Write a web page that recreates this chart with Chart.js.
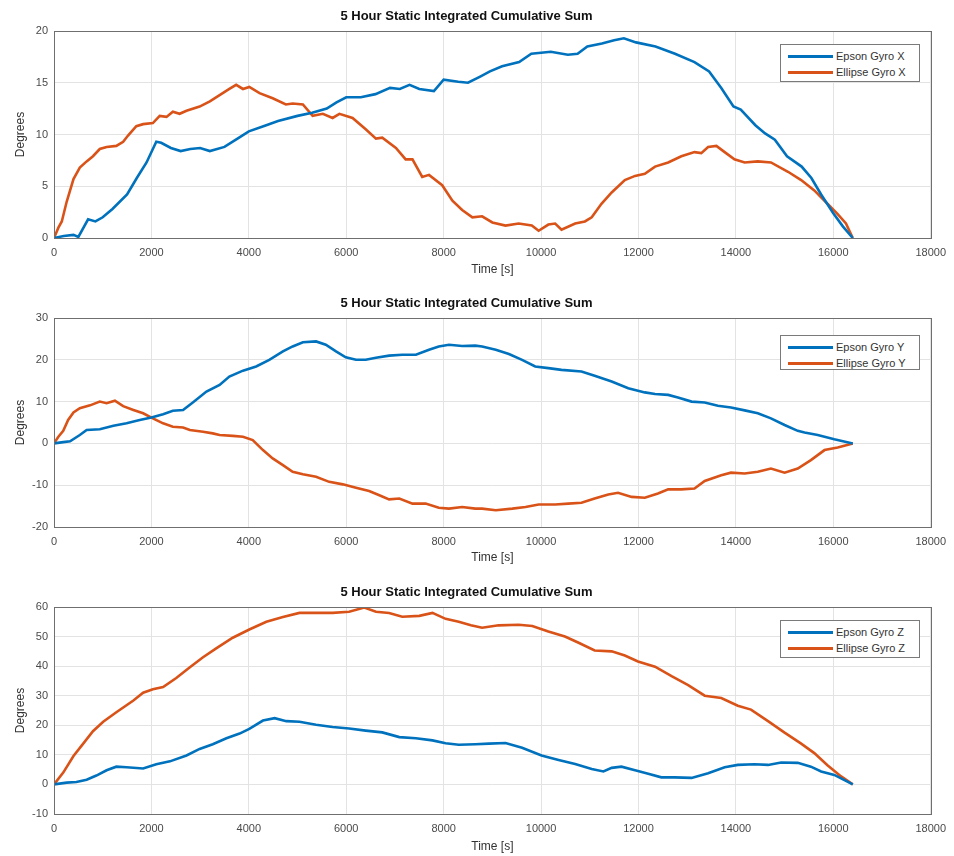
<!DOCTYPE html>
<html>
<head>
<meta charset="utf-8">
<script src="https://cdn.jsdelivr.net/npm/chart.js@4.4.1/dist/chart.umd.min.js"></script>
<style>
  body { margin: 0; background: #fff; width: 954px; height: 856px; position: relative; overflow: hidden; }
  .panel { position: absolute; left: 0; width: 954px; }
  .legend { position: absolute; background: #fff; border: 1px solid #7a7a7a; font: 11px "Liberation Sans", Arial, sans-serif; color: #333; box-sizing: border-box; }
  .legend .row { position: absolute; left: 0; height: 14px; line-height: 14px; white-space: nowrap; }
  .legend .swatch { position: absolute; left: 7px; top: 6px; width: 45px; height: 3px; }
  .legend .txt { position: absolute; left: 55px; top: 0; }
</style>
</head>
<body>
<div class="panel" style="top:0;height:286px"><canvas id="chartX" width="954" height="286"></canvas></div>
<div class="panel" style="top:287px;height:288px"><canvas id="chartY" width="954" height="288"></canvas></div>
<div class="panel" style="top:576px;height:280px"><canvas id="chartZ" width="954" height="280"></canvas></div>
<script>
const titleText = "5 Hour Static Integrated Cumulative Sum";
const blue = "#0072BD";
const orange = "#D95319";

// X axis gyro
const epsonXTime = [0, 200, 400, 500, 700, 850, 1000, 1200, 1500, 1700, 1900, 2100, 2200, 2400, 2600, 2800, 3000, 3200, 3500, 3800, 4000, 4300, 4600, 5000, 5300, 5600, 5800, 6000, 6300, 6600, 6900, 7100, 7300, 7500, 7800, 8000, 8300, 8500, 8750, 8950, 9200, 9550, 9800, 10000, 10200, 10550, 10750, 10950, 11250, 11500, 11700, 11950, 12350, 12750, 13150, 13450, 13700, 13950, 14100, 14400, 14600, 14800, 15050, 15350, 15550, 15750, 16000, 16200, 16400];
const epsonXDeg  = [0, 0.2, 0.3, 0.1, 1.8, 1.6, 2.0, 2.8, 4.2, 5.8, 7.3, 9.3, 9.2, 8.7, 8.4, 8.6, 8.7, 8.4, 8.8, 9.7, 10.3, 10.8, 11.3, 11.8, 12.1, 12.5, 13.1, 13.6, 13.6, 13.9, 14.5, 14.4, 14.8, 14.4, 14.2, 15.3, 15.1, 15.0, 15.6, 16.1, 16.6, 17.0, 17.8, 17.9, 18.0, 17.7, 17.8, 18.5, 18.8, 19.1, 19.3, 18.9, 18.5, 17.8, 17.0, 16.1, 14.5, 12.7, 12.4, 10.9, 10.1, 9.5, 7.9, 6.9, 5.8, 4.2, 2.4, 1.1, 0];
const ellipseXTime = [0, 90, 160, 260, 400, 530, 670, 800, 940, 1080, 1280, 1420, 1520, 1690, 1830, 2030, 2170, 2310, 2440, 2580, 2720, 2990, 3200, 3400, 3600, 3740, 3880, 4010, 4220, 4490, 4760, 4900, 5110, 5310, 5520, 5720, 5860, 6130, 6400, 6610, 6740, 7020, 7220, 7360, 7560, 7700, 7970, 8180, 8380, 8590, 8790, 9000, 9270, 9540, 9810, 9950, 10150, 10290, 10420, 10700, 10900, 11040, 11240, 11450, 11720, 11930, 12130, 12340, 12610, 12880, 13150, 13290, 13430, 13600, 13770, 13970, 14180, 14450, 14720, 15070, 15340, 15610, 15820, 16090, 16260, 16400];
const ellipseXDeg  = [0, 1.0, 1.6, 3.5, 5.7, 6.8, 7.4, 7.9, 8.6, 8.8, 8.9, 9.3, 9.9, 10.8, 11.0, 11.1, 11.8, 11.7, 12.2, 12.0, 12.3, 12.7, 13.2, 13.8, 14.4, 14.8, 14.4, 14.6, 14.0, 13.5, 12.9, 13.0, 12.9, 11.8, 12.0, 11.6, 12.0, 11.6, 10.5, 9.6, 9.7, 8.7, 7.6, 7.6, 5.9, 6.1, 5.1, 3.6, 2.7, 2.0, 2.1, 1.5, 1.2, 1.4, 1.2, 0.7, 1.3, 1.4, 0.8, 1.4, 1.6, 2.0, 3.3, 4.4, 5.6, 6.0, 6.2, 6.9, 7.3, 7.9, 8.3, 8.2, 8.8, 8.9, 8.3, 7.6, 7.3, 7.4, 7.3, 6.4, 5.6, 4.6, 3.6, 2.3, 1.4, 0];

// Y axis gyro
const epsonYTime = [0, 190, 330, 530, 670, 940, 1220, 1490, 1760, 2000, 2240, 2440, 2650, 2850, 3130, 3400, 3600, 3880, 4150, 4420, 4700, 4900, 5110, 5380, 5580, 5790, 5990, 6200, 6400, 6610, 6880, 7150, 7430, 7700, 7900, 8110, 8380, 8650, 8790, 9070, 9340, 9610, 9880, 10150, 10420, 10830, 11100, 11450, 11790, 12130, 12340, 12610, 12810, 13090, 13360, 13630, 13900, 14180, 14450, 14720, 15000, 15270, 15410, 15680, 16020, 16400];
const epsonYDeg  = [0, 0.3, 0.5, 2.0, 3.2, 3.4, 4.2, 4.8, 5.6, 6.2, 7.0, 7.8, 8.0, 9.8, 12.4, 14.0, 16.0, 17.4, 18.4, 20.0, 22.0, 23.2, 24.2, 24.4, 23.6, 22.0, 20.6, 20.0, 20.0, 20.5, 21.0, 21.2, 21.2, 22.4, 23.2, 23.6, 23.3, 23.4, 23.2, 22.4, 21.4, 20.0, 18.4, 18.0, 17.6, 17.2, 16.2, 14.8, 13.2, 12.2, 11.8, 11.6, 11.0, 10.0, 9.8, 9.0, 8.6, 7.9, 7.2, 6.0, 4.4, 3.0, 2.6, 2.0, 1.0, 0];
const ellipseYTime = [0, 90, 190, 290, 400, 530, 740, 940, 1080, 1250, 1420, 1630, 1830, 2030, 2240, 2440, 2650, 2790, 3060, 3260, 3400, 3670, 3880, 4080, 4290, 4490, 4700, 4900, 5110, 5380, 5650, 5930, 6200, 6470, 6680, 6880, 7090, 7360, 7630, 7900, 8110, 8380, 8650, 8790, 9070, 9410, 9680, 9950, 10290, 10560, 10830, 11100, 11380, 11580, 11860, 12130, 12400, 12610, 12880, 13150, 13360, 13700, 13900, 14180, 14450, 14720, 15000, 15270, 15540, 15820, 16090, 16400];
const ellipseYDeg  = [0, 1.6, 3.0, 5.6, 7.4, 8.4, 9.1, 10.0, 9.6, 10.2, 8.9, 8.0, 7.2, 6.0, 4.8, 4.0, 3.8, 3.2, 2.8, 2.4, 2.0, 1.8, 1.6, 0.8, -1.6, -3.6, -5.2, -6.8, -7.4, -8.0, -9.2, -9.8, -10.6, -11.4, -12.4, -13.4, -13.2, -14.4, -14.4, -15.4, -15.6, -15.2, -15.6, -15.6, -16.0, -15.6, -15.2, -14.6, -14.6, -14.4, -14.2, -13.2, -12.2, -11.8, -12.8, -13.0, -12.0, -11.0, -11.0, -10.8, -9.0, -7.6, -7.0, -7.2, -6.8, -6.0, -7.0, -6.0, -4.0, -1.6, -1.0, 0];

// Z axis gyro
const epsonZTime = [0, 260, 460, 670, 870, 1080, 1280, 1490, 1830, 2100, 2380, 2720, 2990, 3260, 3540, 3810, 4010, 4290, 4530, 4770, 5040, 5380, 5720, 6060, 6400, 6740, 7090, 7430, 7770, 8040, 8310, 8650, 8930, 9270, 9610, 10010, 10360, 10700, 11040, 11280, 11450, 11650, 11930, 12200, 12470, 12740, 13090, 13430, 13770, 14040, 14380, 14660, 14930, 15270, 15540, 15750, 16020, 16400];
const epsonZDeg  = [0, 0.6, 0.8, 1.6, 3.0, 4.8, 6.0, 5.8, 5.4, 6.8, 7.8, 9.8, 12.0, 13.6, 15.6, 17.2, 18.8, 21.6, 22.4, 21.4, 21.2, 20.2, 19.4, 18.9, 18.2, 17.6, 16.0, 15.6, 14.9, 13.9, 13.4, 13.6, 13.8, 14.0, 12.4, 9.8, 8.3, 6.9, 5.2, 4.4, 5.6, 6.0, 4.8, 3.6, 2.4, 2.4, 2.2, 3.8, 5.8, 6.6, 6.8, 6.6, 7.4, 7.3, 6.0, 4.4, 3.2, 0];
const ellipseZTime = [0, 190, 400, 600, 800, 1010, 1280, 1630, 1830, 2030, 2240, 2510, 2790, 3060, 3330, 3670, 4010, 4360, 4700, 5040, 5380, 5720, 6060, 6370, 6610, 6880, 7150, 7500, 7770, 8040, 8310, 8560, 8790, 9130, 9540, 9820, 10150, 10490, 10760, 11100, 11450, 11720, 11990, 12340, 12680, 13020, 13360, 13700, 14040, 14310, 14660, 15000, 15340, 15610, 15880, 16160, 16400];
const ellipseZDeg  = [0, 4.0, 9.6, 13.8, 18.0, 21.2, 24.4, 28.4, 31.0, 32.2, 32.9, 36.0, 39.6, 43.0, 46.0, 49.6, 52.4, 55.0, 56.6, 58.0, 58.0, 58.0, 58.4, 59.8, 58.4, 58.0, 56.7, 57.0, 58.0, 56.0, 55.0, 53.8, 53.0, 53.8, 54.0, 53.6, 51.7, 50.0, 48.0, 45.3, 45.0, 43.6, 41.6, 39.8, 36.6, 33.6, 30.0, 29.2, 26.6, 25.3, 21.4, 17.5, 13.8, 10.6, 6.5, 2.7, 0];

const xTicks = [0, 2000, 4000, 6000, 8000, 10000, 12000, 14000, 16000, 18000];

function points(times, values) {
    return times.map((t, i) => ({ x: t, y: values[i] }));
}

// draws the full box around the plot area like MATLAB does
const framePlugin = {
    id: "frame",
    afterDraw(chart) {
        const a = chart.chartArea;
        const ctx = chart.ctx;
        ctx.save();
        ctx.strokeStyle = "#6f6f6f";
        ctx.lineWidth = 1;
        ctx.strokeRect(Math.round(a.left) + 0.5, Math.round(a.top) + 0.5, Math.round(a.right - a.left), Math.round(a.bottom - a.top));
        ctx.restore();
    }
};

function makeChart(canvasId, series, yMin, yMax, yStep, xAxisHeight, xTitlePad) {
    const ctx = document.getElementById(canvasId).getContext("2d");
    return new Chart(ctx, {
        type: "line",
        data: {
            datasets: series.map(s => ({
                label: s.label,
                data: points(s.time, s.deg),
                borderColor: s.color,
                backgroundColor: s.color,
                borderWidth: 2.6,
                pointRadius: 0,
                tension: 0,
                fill: false
            }))
        },
        options: {
            responsive: false,
            animation: false,
            devicePixelRatio: 1,
            layout: { padding: { left: 0, right: 21, top: 0, bottom: 0 } },
            plugins: {
                legend: { display: false },
                tooltip: { enabled: false },
                title: {
                    display: true,
                    text: titleText,
                    color: "#111",
                    font: { family: "Liberation Sans", size: 13, weight: "bold", lineHeight: 1.2 },
                    padding: { top: 9, bottom: 6.4 }
                }
            },
            scales: {
                x: {
                    type: "linear",
                    min: 0,
                    max: 18000,
                    afterBuildTicks: axis => { axis.ticks = xTicks.map(v => ({ value: v })); },
                    afterFit: axis => { axis.height = xAxisHeight; },
                    grid: { color: "#e3e3e3", drawTicks: false },
                    border: { display: false },
                    ticks: {
                        color: "#4a4a4a", padding: 8, maxRotation: 0,
                        font: { family: "Liberation Sans", size: 11 },
                        callback: v => String(v)
                    },
                    title: {
                        display: true,
                        text: "Time [s]",
                        color: "#333",
                        font: { family: "Liberation Sans", size: 12, lineHeight: 1.2 },
                        padding: { top: 0, bottom: xTitlePad }
                    }
                },
                y: {
                    min: yMin,
                    max: yMax,
                    afterFit: axis => { axis.width = 54; },
                    grid: { color: "#e3e3e3", drawTicks: false },
                    border: { display: false },
                    ticks: {
                        stepSize: yStep, color: "#4a4a4a", padding: 6,
                        font: { family: "Liberation Sans", size: 11 },
                        callback: v => String(v)
                    },
                    title: {
                        display: true,
                        text: "Degrees",
                        color: "#333",
                        font: { family: "Liberation Sans", size: 12, lineHeight: 1.2 },
                        padding: { top: 13, bottom: 0 }
                    }
                }
            }
        },
        plugins: [framePlugin]
    });
}

// legend boxes sit inside the plot area, built from the dataset labels
function addLegend(chart, top, height, rowGap) {
    const box = document.createElement("div");
    box.className = "legend";
    box.style.left = "780px";
    box.style.top = top + "px";
    box.style.width = "140px";
    box.style.height = height + "px";
    chart.data.datasets.forEach((ds, i) => {
        const row = document.createElement("div");
        row.className = "row";
        row.style.top = (4 + i * rowGap) + "px";
        row.innerHTML = `<span class="swatch" style="background:${ds.borderColor}"></span><span class="txt">${ds.label}</span>`;
        box.appendChild(row);
    });
    document.body.appendChild(box);
}

const chartX = makeChart("chartX", [
    { label: "Epson Gyro X", time: epsonXTime, deg: epsonXDeg, color: blue },
    { label: "Ellipse Gyro X", time: ellipseXTime, deg: ellipseXDeg, color: orange }
], 0, 20, 5, 48, 8.8);

const chartY = makeChart("chartY", [
    { label: "Epson Gyro Y", time: epsonYTime, deg: epsonYDeg, color: blue },
    { label: "Ellipse Gyro Y", time: ellipseYTime, deg: ellipseYDeg, color: orange }
], -20, 30, 10, 48, 9.8);

const chartZ = makeChart("chartZ", [
    { label: "Epson Gyro Z", time: epsonZTime, deg: epsonZDeg, color: blue },
    { label: "Ellipse Gyro Z", time: ellipseZTime, deg: ellipseZDeg, color: orange }
], -10, 60, 10, 42, 1.8);

addLegend(chartX, 44, 38, 16);
addLegend(chartY, 335, 35, 16);
addLegend(chartZ, 620, 38, 16);
</script>
</body>
</html>
